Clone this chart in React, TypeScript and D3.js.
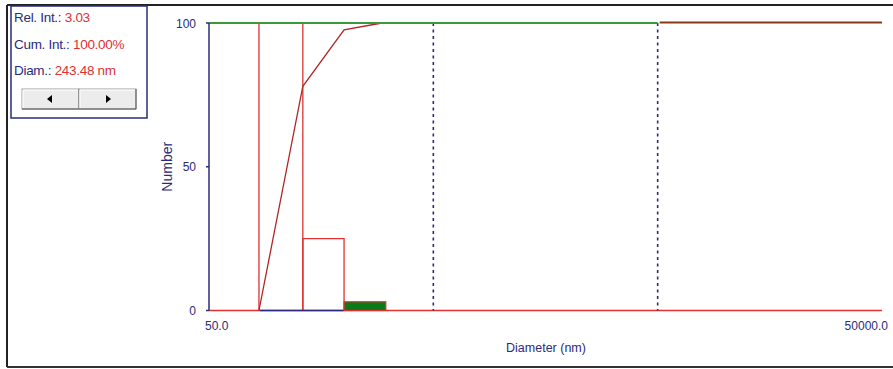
import React from 'react';
import { scaleLog, scaleLinear, line } from 'd3';

// histogram bins (nm) and their relative number
const binEdges = [83.5, 131, 200, 307];
const binValues = [100, 25, 3.03];
const selectedBin = 2;

// cumulative distribution
const cumDiam = [83.5, 131, 200, 295];
const cumValues = [0, 78, 97.6, 100];

// dotted range markers
const markerDiams = [500, 5000];

const yTicks = [0, 50, 100];
const xTickLabels = ['50.0', '50000.0'];

const info = [
  { label: 'Rel. Int.: ', value: '3.03' },
  { label: 'Cum. Int.: ', value: '100.00%' },
  { label: 'Diam.: ', value: '243.48 nm' },
];

const W = 893;
const H = 369;
const navy = '#2b2b7a';
const red = '#e03030';
const font = '"Liberation Sans", Arial, sans-serif';

const App = () => {
  const x = scaleLog().domain([50, 50000]).range([209, 882]);
  const y = scaleLinear().domain([0, 100]).range([310.5, 23]);

  const cumLine = line<number>()
    .x((d, i) => x(cumDiam[i]))
    .y(d => y(d));

  const x0 = x.domain()[0];
  const x1 = x.domain()[1];

  return (
    <svg width={W} height={H} style={{ position: 'absolute', left: 0, top: 0, background: '#fff' }}>
      {/* outer frame */}
      <line x1={7} x2={W} y1={5} y2={5} stroke="#222" strokeWidth={2} />
      <line x1={7} x2={7} y1={5} y2={367} stroke="#222" strokeWidth={2} />
      <line x1={7} x2={W} y1={367} y2={367} stroke="#333" strokeWidth={2} />

      {/* info box */}
      <rect x={11} y={6} width={136} height={112} fill="#fff" stroke={navy} strokeWidth={1.5} />
      {info.map((d, i) => (
        <text key={i} x={14} y={22 + i * 26.5} fontFamily={font} fontSize={13.5} letterSpacing={-0.3}>
          <tspan fill={navy}>{d.label}</tspan>
          <tspan fill={red}>{d.value}</tspan>
        </text>
      ))}
      {[0, 1].map(i => {
        const bx = 22 + i * 57;
        return (
          <g key={i}>
            <rect x={bx} y={89} width={57} height={20} fill="#ececec" stroke="#a0a0a0" />
            <line x1={bx + 1} x2={bx + 56} y1={90} y2={90} stroke="#fff" />
            <line x1={bx + 1} x2={bx + 1} y1={90} y2={108} stroke="#fff" />
            <line x1={bx} x2={bx + 57} y1={109} y2={109} stroke="#555" />
            <line x1={bx + 57} x2={bx + 57} y1={89} y2={109} stroke="#555" />
            {i === 0 ? (
              <path d={`M${bx + 25},99 L${bx + 30},95 L${bx + 30},103 Z`} fill="#000" />
            ) : (
              <path d={`M${bx + 32},99 L${bx + 27},95 L${bx + 27},103 Z`} fill="#000" />
            )}
          </g>
        );
      })}

      {/* zero baseline (red) */}
      <line x1={x(x0)} x2={x(x1)} y1={y(0)} y2={y(0)} stroke={red} strokeWidth={1.5} />

      {/* histogram bars */}
      {binValues.map((v, i) =>
        i === selectedBin ? (
          <rect
            key={i}
            x={x(binEdges[i])}
            y={y(v)}
            width={x(binEdges[i + 1]) - x(binEdges[i])}
            height={y(0) - y(v)}
            fill="#0a7a1a"
            stroke={red}
            strokeWidth={1.2}
          />
        ) : (
          <path
            key={i}
            d={`M${x(binEdges[i])},${y(0)} V${y(v)} H${x(binEdges[i + 1])} V${y(0)}`}
            fill="none"
            stroke={red}
            strokeWidth={1.3}
          />
        )
      )}
      {/* blue baseline under the non-selected bars */}
      <line x1={x(binEdges[0]) + 1} x2={x(binEdges[selectedBin]) - 0.5} y1={y(0)} y2={y(0)} stroke={navy} strokeWidth={1.5} />

      {/* dotted markers */}
      {markerDiams.map((d, i) => (
        <line key={i} x1={x(d)} x2={x(d)} y1={y(100)} y2={y(0)} stroke={navy} strokeWidth={1.6} strokeDasharray="3,3.5" />
      ))}

      {/* cumulative */}
      <path d={cumLine(cumValues) || ''} fill="none" stroke="#b02525" strokeWidth={1.3} />
      <line x1={x(markerDiams[1]) + 2} x2={x(x1)} y1={y(100) - 0.5} y2={y(100) - 0.5} stroke="#8a3a1a" strokeWidth={2.2} />
      <line x1={x(x0)} x2={x(markerDiams[1])} y1={y(100)} y2={y(100)} stroke="#3a9a3a" strokeWidth={1.8} />

      {/* y axis */}
      <line x1={x(x0)} x2={x(x0)} y1={y(100)} y2={y(0)} stroke={navy} strokeWidth={1.5} />
      {yTicks.map(t => (
        <g key={t}>
          <line x1={x(x0) - 3} x2={x(x0)} y1={y(t)} y2={y(t)} stroke={navy} strokeWidth={1.5} />
          <text x={196} y={y(t) + 4.5} textAnchor="end" fontFamily={font} fontSize={12} fill={navy}>
            {t}
          </text>
        </g>
      ))}
      <text
        transform={`translate(172,${y(50)}) rotate(-90)`}
        textAnchor="middle"
        fontFamily={font}
        fontSize={14}
        fill={navy}
      >
        Number
      </text>

      {/* x labels */}
      <text x={x(x0) - 4} y={330} fontFamily={font} fontSize={12} fill={navy}>
        {xTickLabels[0]}
      </text>
      <text x={x(x1) + 6} y={330} textAnchor="end" fontFamily={font} fontSize={12} fill={navy}>
        {xTickLabels[1]}
      </text>
      <text x={546} y={352} textAnchor="middle" fontFamily={font} fontSize={12.5} fill={navy}>
        Diameter (nm)
      </text>
    </svg>
  );
};

export default App;
